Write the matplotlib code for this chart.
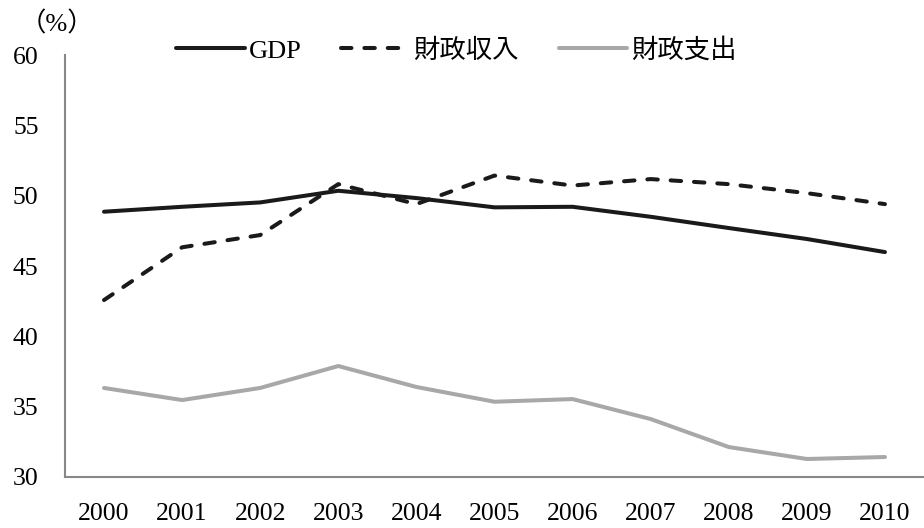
import matplotlib
matplotlib.use('Agg')
import matplotlib.pyplot as plt

plt.rcParams['font.family'] = ['Liberation Serif', 'Noto Sans CJK JP']

# data
years = ['2000', '2001', '2002', '2003', '2004', '2005', '2006', '2007', '2008', '2009', '2010']
gdp = [48.86, 49.21, 49.52, 50.35, 49.83, 49.17, 49.21, 48.50, 47.70, 46.92, 45.99]
revenue = [42.58, 46.33, 47.20, 50.82, 49.40, 51.43, 50.72, 51.18, 50.82, 50.18, 49.40]
expenditure = [36.33, 35.47, 36.33, 37.89, 36.40, 35.35, 35.54, 34.12, 32.13, 31.28, 31.42]
labels = ['GDP', '財政収入', '財政支出']

fig = plt.figure(figsize=(9.24, 5.28), dpi=100)
ax = fig.add_axes([0.0703, 0.0966, 0.9297, 0.7992])

x = list(range(len(years)))
ax.plot(x, gdp, color='#1a1a1a', lw=2.9, label=labels[0], solid_capstyle='round')
ax.plot(x, revenue, color='#1a1a1a', lw=2.9, ls=(0, (2.6, 3.2)), dash_capstyle='round', label=labels[1])
ax.plot(x, expenditure, color='#a8a8a8', lw=2.9, label=labels[2], solid_capstyle='round')

ax.set_xlim(-0.5, 10.5)
ax.set_ylim(30, 60)
ax.set_yticks(range(30, 61, 5))
ax.set_xticks(x)
ax.set_xticklabels(years)

for s in ['top', 'right']:
    ax.spines[s].set_visible(False)
for s in ['left', 'bottom']:
    ax.spines[s].set_color('#888888')
    ax.spines[s].set_linewidth(1.5)

ax.tick_params(axis='both', length=0, labelsize=18.5)
ax.tick_params(axis='y', pad=19)
ax.tick_params(axis='x', pad=19)

fig.text(0.062, 0.955, '（%）', fontsize=19, ha='center', va='center')

fig.legend(loc='center', bbox_to_anchor=(0.494, 0.905), ncol=3, frameon=False,
           fontsize=19, handlelength=2.6, handletextpad=0.15, columnspacing=1.5)

plt.savefig('out.png', dpi=100)
